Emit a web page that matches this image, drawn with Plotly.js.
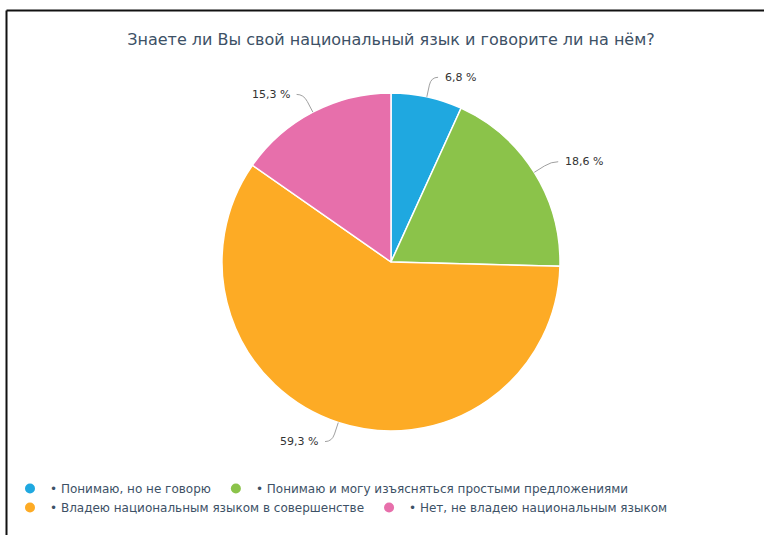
<!DOCTYPE html>
<html>
<head>
<meta charset="utf-8">
<script src="https://cdn.plot.ly/plotly-3.0.1.min.js"></script>
<style>html,body{margin:0;padding:0;background:#fff;}#chart{width:764px;height:535px;}</style>
</head>
<body>
<div id="chart"></div>
<script>
const categories = [
  "Понимаю, но не говорю",
  "Понимаю и могу изъясняться простыми предложениями",
  "Владею национальным языком в совершенстве",
  "Нет, не владею национальным языком"
];
const values = [6.8, 18.6, 59.3, 15.3];
const colors = ["#1fa8e0", "#8bc34a", "#fdab25", "#e76fab"];
const legendRows = ["legend", "legend", "legend2", "legend2"];
const chartTitle = "Знаете ли Вы свой национальный язык и говорите ли на нём?";

const W = 764, H = 535;
const M = {l: 0, r: 0, t: 93, b: 104};
const pw = W - M.l - M.r, ph = H - M.t - M.b;
const R = ph / 2;
const cx = 391, cy = M.t + ph / 2;
const px2x = p => (p - M.l) / pw;
const py2y = p => 1 - (p - M.t) / ph;

const total = values.reduce((a, b) => a + b, 0);
const shapes = [];
const annotations = [];
let cum = 0;
values.forEach((v, i) => {
  const mid = (cum + v / 2) / total * 2 * Math.PI;
  cum += v;
  const ux = Math.sin(mid), uy = -Math.cos(mid);
  const ex = cx + R * ux, ey = cy + R * uy;
  const kx = cx + (R + 20) * ux, ky = cy + (R + 20) * uy;
  const ax = ex + 0.6 * (kx - ex), ay = ey + 0.6 * (ky - ey);
  const side = ux >= 0 ? 1 : -1;
  const bx = kx + side * 7, by = ky;
  const path = `M ${px2x(ex)},${py2y(ey)} L ${px2x(ax)},${py2y(ay)} Q ${px2x(kx)},${py2y(ky)} ${px2x(bx)},${py2y(by)}`;
  shapes.push({type: 'path', xref: 'paper', yref: 'paper', path: path, line: {color: '#a0a0a0', width: 1}});
  annotations.push({
    xref: 'paper', yref: 'paper', x: px2x(bx + side * 5), y: py2y(by),
    xanchor: side > 0 ? 'left' : 'right', yanchor: 'middle', showarrow: false,
    text: v.toFixed(1).replace('.', ',') + ' %',
    font: {family: 'DejaVu Sans', size: 11, color: '#333333'}
  });
});

// frame lines (top and left)
shapes.push({type: 'line', xref: 'paper', yref: 'paper', x0: px2x(6.5), x1: px2x(W), y0: py2y(10.5), y1: py2y(10.5), line: {color: '#111', width: 2}});
shapes.push({type: 'line', xref: 'paper', yref: 'paper', x0: px2x(6.5), x1: px2x(6.5), y0: py2y(10.5), y1: py2y(H), line: {color: '#111', width: 2}});

const data = [{
  type: 'pie',
  values: values,
  labels: categories,
  marker: {colors: colors, line: {color: '#ffffff', width: 1.5}},
  sort: false,
  direction: 'clockwise',
  rotation: 0,
  textinfo: 'none',
  hoverinfo: 'label+percent',
  showlegend: false,
  domain: {x: [(cx - R) / W, (cx + R) / W], y: [0, 1]}
}];
categories.forEach((c, i) => {
  data.push({
    type: 'scatter', mode: 'markers', x: [null], y: [null],
    name: '• ' + c,
    legend: legendRows[i],
    marker: {color: colors[i], size: 10, symbol: 'circle'},
    showlegend: true, hoverinfo: 'skip'
  });
});

const legendStyle = (topPx) => ({
  orientation: 'h', xref: 'paper', yref: 'paper',
  x: px2x(10), xanchor: 'left', y: py2y(topPx), yanchor: 'top',
  font: {family: 'DejaVu Sans', size: 12, color: '#3d5166'},
  itemwidth: 30, tracegroupgap: 0, bgcolor: 'rgba(0,0,0,0)'
});

const layout = {
  width: W, height: H,
  margin: {l: M.l, r: M.r, t: M.t, b: M.b, autoexpand: false},
  paper_bgcolor: '#ffffff', plot_bgcolor: '#ffffff',
  title: {
    text: chartTitle,
    font: {family: 'DejaVu Sans', size: 16, color: '#3d5166'},
    xref: 'paper', x: cx / W, xanchor: 'center',
    yref: 'container', y: 1 - 39 / H, yanchor: 'middle'
  },
  xaxis: {visible: false}, yaxis: {visible: false},
  showlegend: true,
  legend: legendStyle(474),
  legend2: legendStyle(493),
  shapes: shapes,
  annotations: annotations
};

Plotly.newPlot('chart', data, layout, {displayModeBar: false});
</script>
</body>
</html>
